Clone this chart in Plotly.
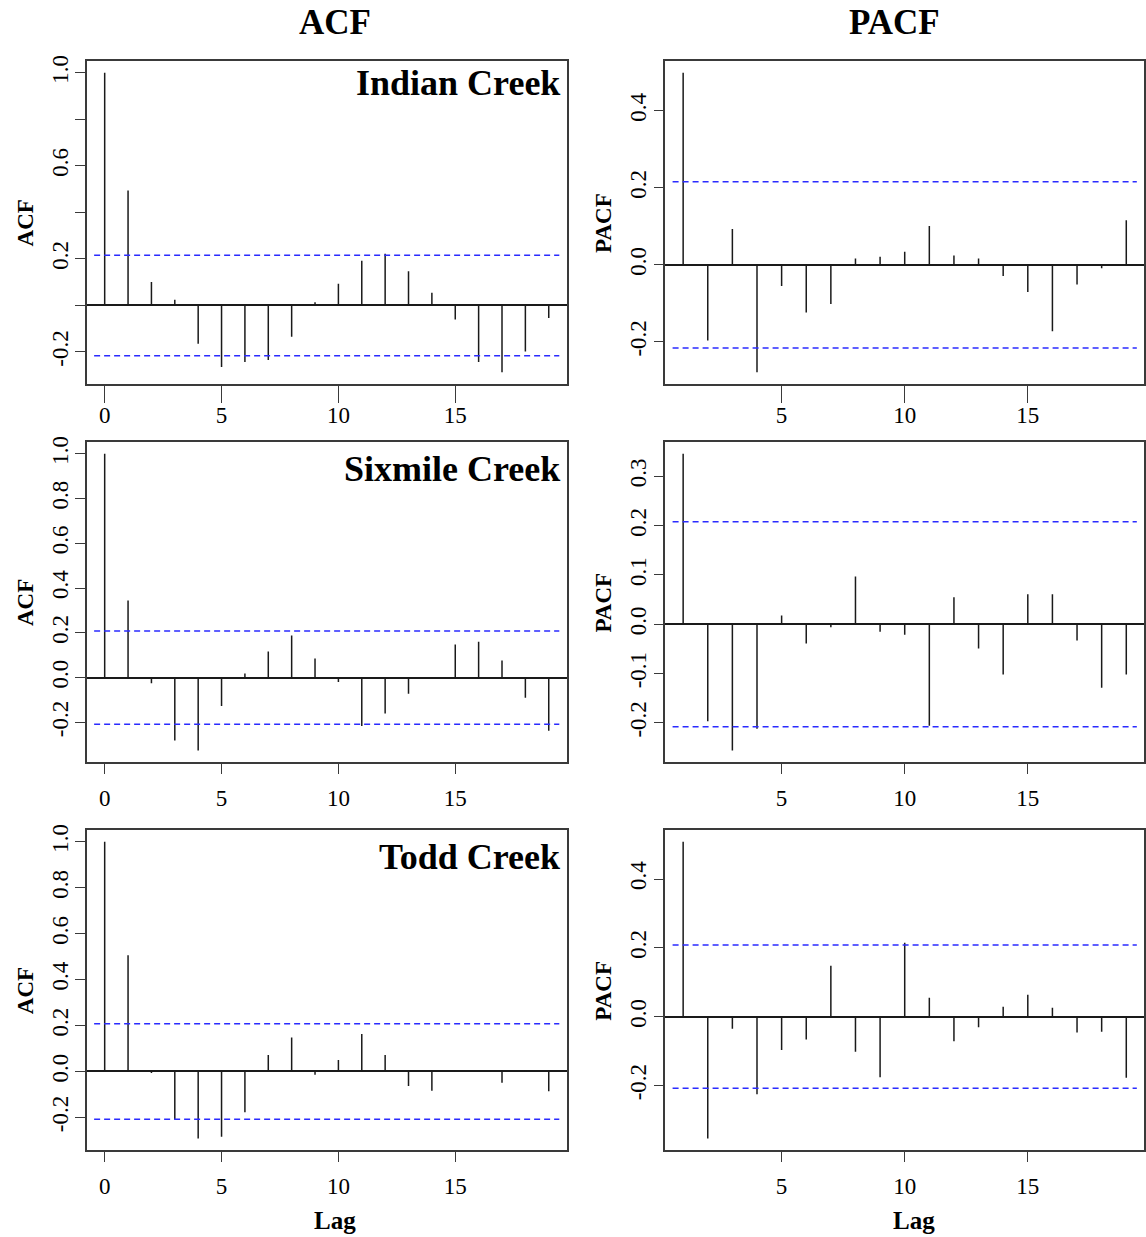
import plotly.graph_objects as go

# ---------------- data ----------------
lags_acf = list(range(0, 20))
lags_pacf = list(range(1, 20))

indian_acf = [1.0, 0.494, 0.101, 0.024, -0.165, -0.265, -0.243, -0.235, -0.135, 0.013,
              0.093, 0.192, 0.222, 0.147, 0.054, -0.061, -0.243, -0.287, -0.198, -0.054]
indian_pacf = [0.499, -0.197, 0.093, -0.279, -0.055, -0.124, -0.102, 0.016, 0.021, 0.034,
               0.101, 0.024, 0.016, -0.029, -0.071, -0.173, -0.051, -0.009, 0.116]

sixmile_acf = [1.0, 0.345, -0.025, -0.281, -0.325, -0.127, 0.019, 0.117, 0.188, 0.086,
               -0.019, -0.216, -0.160, -0.072, 0.003, 0.148, 0.160, 0.077, -0.090, -0.237]
sixmile_pacf = [0.346, -0.197, -0.256, -0.212, 0.018, -0.039, -0.006, 0.097, -0.015, -0.021,
                -0.206, 0.055, -0.049, -0.102, 0.061, 0.061, -0.033, -0.129, -0.102]

todd_acf = [1.0, 0.506, -0.007, -0.209, -0.292, -0.284, -0.177, 0.072, 0.148, -0.014,
            0.050, 0.163, 0.072, -0.063, -0.084, 0.003, 0.002, -0.049, 0.003, -0.086]
todd_pacf = [0.508, -0.354, -0.035, -0.225, -0.097, -0.066, 0.148, -0.102, -0.176, 0.215,
             0.055, -0.071, -0.031, 0.029, 0.064, 0.026, -0.046, -0.044, -0.177]

site_names = ["Indian Creek", "Sixmile Creek", "Todd Creek"]
conf_limits = [0.216, 0.208, 0.208]

acf_series = [indian_acf, sixmile_acf, todd_acf]
pacf_series = [indian_pacf, sixmile_pacf, todd_pacf]

acf_ytick_vals = [[-0.2, 0.0, 0.2, 0.4, 0.6, 0.8, 1.0],
                  [-0.2, 0.0, 0.2, 0.4, 0.6, 0.8, 1.0],
                  [-0.2, 0.0, 0.2, 0.4, 0.6, 0.8, 1.0]]
acf_ytick_text = [["-0.2", "", "0.2", "", "0.6", "", "1.0"],
                  ["-0.2", "0.0", "0.2", "0.4", "0.6", "0.8", "1.0"],
                  ["-0.2", "0.0", "0.2", "0.4", "0.6", "0.8", "1.0"]]
pacf_ytick_vals = [[-0.2, 0.0, 0.2, 0.4],
                   [-0.2, -0.1, 0.0, 0.1, 0.2, 0.3],
                   [-0.2, 0.0, 0.2, 0.4]]
pacf_ytick_text = [["-0.2", "0.0", "0.2", "0.4"],
                   ["-0.2", "-0.1", "0.0", "0.1", "0.2", "0.3"],
                   ["-0.2", "0.0", "0.2", "0.4"]]
acf_xticks = [0, 5, 10, 15]
pacf_xticks = [5, 10, 15]

# ---------------- layout geometry ----------------
W, H = 1146, 1237
FONT = "Liberation Serif"
col_x = [(87, 567), (666, 1145)]
row_y = [(55, 380), (438, 760), (828, 1150)]
label_offsets = [22, 27, 27]
x_ticklen = [17, 10, 10]
x_standoff = [-8, 4, 4]


def px_dom_x(a, b):
    return [a / W, b / W]


def px_dom_y(top, bottom):
    return [1 - bottom / H, 1 - top / H]


def r_range(vals):
    lo, hi = min(vals), max(vals)
    ext = 0.04 * (hi - lo)
    return [lo - ext, hi + ext]


def stems(xs, ys):
    sx, sy = [], []
    for x, y in zip(xs, ys):
        sx += [x, x, None]
        sy += [0, y, None]
    return sx, sy


fig = go.Figure()
layout = dict(width=W, height=H, margin=dict(l=0, r=0, t=0, b=0),
              paper_bgcolor="white", plot_bgcolor="white", showlegend=False)
shapes = []
annotations = []

axis_common = dict(showline=True, mirror=True, linecolor="#3a3a3a", linewidth=1.6,
                   showgrid=False, ticks="outside", tickcolor="#3a3a3a", tickwidth=1.4,
                   tickfont=dict(family=FONT, size=23, color="black"))

idx = 0
for r in range(3):
    for c in range(2):
        idx += 1
        xa = "x" if idx == 1 else f"x{idx}"
        ya = "y" if idx == 1 else f"y{idx}"
        xkey = "xaxis" if idx == 1 else f"xaxis{idx}"
        ykey = "yaxis" if idx == 1 else f"yaxis{idx}"
        ci = conf_limits[r]
        if c == 0:
            lags, vals = lags_acf, acf_series[r]
            yvals, ytext = acf_ytick_vals[r], acf_ytick_text[r]
            xt = acf_xticks
        else:
            lags, vals = lags_pacf, pacf_series[r]
            yvals, ytext = pacf_ytick_vals[r], pacf_ytick_text[r]
            xt = pacf_xticks
        sx, sy = stems(lags, vals)
        fig.add_trace(go.Scatter(x=sx, y=sy, mode="lines", xaxis=xa, yaxis=ya,
                                 line=dict(color="#1a1a1a", width=1.5),
                                 hoverinfo="skip"))
        layout[xkey] = dict(axis_common, domain=px_dom_x(*col_x[c]), anchor=ya,
                            range=r_range(lags), tickvals=xt,
                            ticktext=[str(v) for v in xt],
                            ticklen=x_ticklen[r], ticklabelstandoff=x_standoff[r],
                            zeroline=False)
        layout[ykey] = dict(axis_common, domain=px_dom_y(*row_y[r]), anchor=xa,
                            range=r_range(list(vals) + [ci, -ci]),
                            tickvals=yvals, ticktext=ytext, tickangle=-90,
                            ticklen=10, ticklabelstandoff=-2,
                            zeroline=True, zerolinecolor="#1a1a1a", zerolinewidth=1.6)
        for s in (ci, -ci):
            shapes.append(dict(type="line", xref=f"{xa} domain", yref=ya,
                               x0=0.015, x1=0.985, y0=s, y1=s,
                               line=dict(color="#2b2bff", width=1.5, dash="6px,4px")))
        # y axis title
        y0, y1 = row_y[r]
        annotations.append(dict(text="<b>%s</b>" % ("ACF" if c == 0 else "PACF"),
                                xref="paper", yref="paper",
                                x=(col_x[c][0] - 62) / W, y=1 - (y0 + y1) / 2 / H,
                                textangle=-90, showarrow=False,
                                xanchor="center", yanchor="middle",
                                font=dict(family=FONT, size=23, color="black")))
        if c == 0:
            annotations.append(dict(text="<b>%s</b>" % site_names[r],
                                    xref="paper", yref="paper",
                                    x=(col_x[0][1] - 5) / W,
                                    y=1 - (y0 + label_offsets[r]) / H,
                                    showarrow=False, xanchor="right", yanchor="middle",
                                    font=dict(family=FONT, size=36, color="black")))

# column titles
for text, xc in (("ACF", 335), ("PACF", 895)):
    annotations.append(dict(text="<b>%s</b>" % text, xref="paper", yref="paper",
                            x=xc / W, y=1 - 17 / H, showarrow=False,
                            xanchor="center", yanchor="middle",
                            font=dict(family=FONT, size=35, color="black")))
# Lag labels
for xc in (335, 915):
    annotations.append(dict(text="<b>Lag</b>", xref="paper", yref="paper",
                            x=xc / W, y=1 - 1220 / H, showarrow=False,
                            xanchor="center", yanchor="middle",
                            font=dict(family=FONT, size=25, color="black")))

layout["shapes"] = shapes
layout["annotations"] = annotations
fig.update_layout(**layout)
fig.write_html("out.html")
